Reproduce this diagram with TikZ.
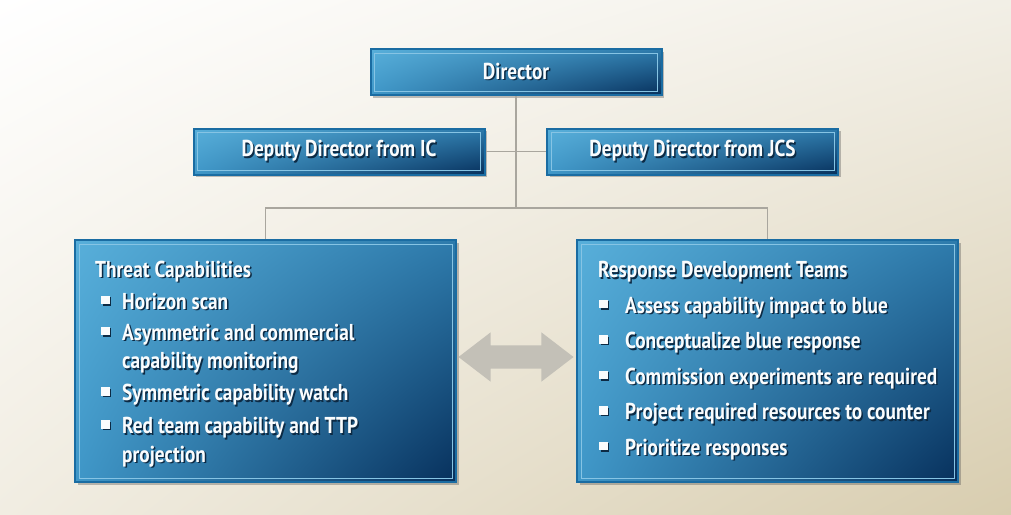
\documentclass[tikz,border=0pt]{standalone}
\usepackage{fontspec}
\newfontfamily\orgfont{PT Sans}[FakeStretch=0.84]
\usetikzlibrary{positioning,shadows,shadings,shapes.arrows}

\definecolor{boxedge}{HTML}{1A6CA2}
\definecolor{boxinset}{HTML}{86C4E4}
\definecolor{boxlt}{HTML}{58AFDA}
\definecolor{boxrt}{HTML}{2E7BAC}
\definecolor{boxlb}{HTML}{3F97C8}
\definecolor{boxrb}{HTML}{07305C}
\definecolor{txtwhite}{HTML}{FAFCFD}
\definecolor{txtshadow}{HTML}{0C2A44}
\definecolor{linkgray}{HTML}{A9A69E}
\definecolor{arrowgray}{HTML}{C3C0B7}
\definecolor{bgrt}{HTML}{F2EFE6}
\definecolor{bglb}{HTML}{F1EDE2}
\definecolor{bgrb}{HTML}{D8CDAF}

% white text with a dark offset shadow
\newcommand\shd[1]{\leavevmode\rlap{\kern1.5pt\raisebox{-1.5pt}{\color{txtshadow}#1}}#1}
\newcommand\bul[1][6pt]{\makebox[27pt][l]{\kern#1\rule[5pt]{8.5pt}{8.5pt}}}
\newcommand\ind{\hspace*{27pt}}

\tikzset{
  orgbox/.style={rectangle, draw=boxedge, line width=2pt, inner sep=0pt,
    upper left=boxlt, upper right=boxrt, lower left=boxlb, lower right=boxrb,
    drop shadow={shadow xshift=2.5pt, shadow yshift=-2.5pt, opacity=0.35, fill=black!70},
    path picture={\draw[boxinset, line width=1pt]
      ([shift={(4pt,-4pt)}]path picture bounding box.north west) rectangle
      ([shift={(-4pt,4pt)}]path picture bounding box.south east);}},
  headbox/.style={orgbox, minimum width=291pt, minimum height=46pt, text=txtwhite,
    font=\orgfont\bfseries\fontsize{23}{28}\selectfont},
  listbox/.style={orgbox, minimum width=381pt, minimum height=242pt},
  listtext/.style={anchor=base west, align=left, inner sep=0pt, text=txtwhite},
  link/.style={draw=linkgray, line width=1.5pt},
  bidir/.style={double arrow, fill=arrowgray, minimum height=115pt, inner xsep=0pt,
    inner ysep=11.5pt, double arrow head extend=13pt, double arrow tip angle=75}
}

\begin{document}
\begin{tikzpicture}[x=1pt,y=-1pt]
\shade[upper left=white, upper right=bgrt, lower left=bglb, lower right=bgrb] (0,0) rectangle (1011,514);
\useasboundingbox (0,0) rectangle (1011,514);

\node[headbox] (dir) at (516,72) {\shd{Director}};
\node[headbox] (ic) at (339,151.5) {\shd{Deputy Director from IC}};
\node[headbox] (jcs) at (692.5,151.5) {\shd{Deputy Director from JCS}};
\coordinate (hub) at (516,208);

\node[listbox] (threat) at (265.5,361) {};
\node[listbox] (resp) at (767.5,361) {};

\draw[link] (dir.south) -- (hub);
\draw[link] (ic.east) -- (jcs.west);
\draw[link] (threat.north) |- (hub) -| (resp.north);

% base anchor sits on the last line
\node[listtext, font=\orgfont\bfseries\fontsize{23}{28.5}\selectfont] (threatlist) at (95,462) {
  \shd{Threat Capabilities}\\[3.5pt]
  \shd{\bul Horizon scan}\\[2.5pt]
  \shd{\bul Asymmetric and commercial}\\
  \shd{\ind capability monitoring}\\[3.5pt]
  \shd{\bul Symmetric capability watch}\\[4.5pt]
  \shd{\bul Red team capability and TTP}\\
  \shd{\ind projection}};
\node[listtext, font=\orgfont\bfseries\fontsize{23}{35.5}\selectfont] (resplist) at (598,455) {
  \shd{Response Development Teams}\\
  \shd{\bul[1pt]Assess capability impact to blue}\\
  \shd{\bul[1pt]Conceptualize blue response}\\
  \shd{\bul[1pt]Commission experiments are required}\\
  \shd{\bul[1pt]Project required resources to counter}\\
  \shd{\bul[1pt]Prioritize responses}};

\node[bidir] (swap) at (516,357) {};
\end{tikzpicture}
\end{document}
